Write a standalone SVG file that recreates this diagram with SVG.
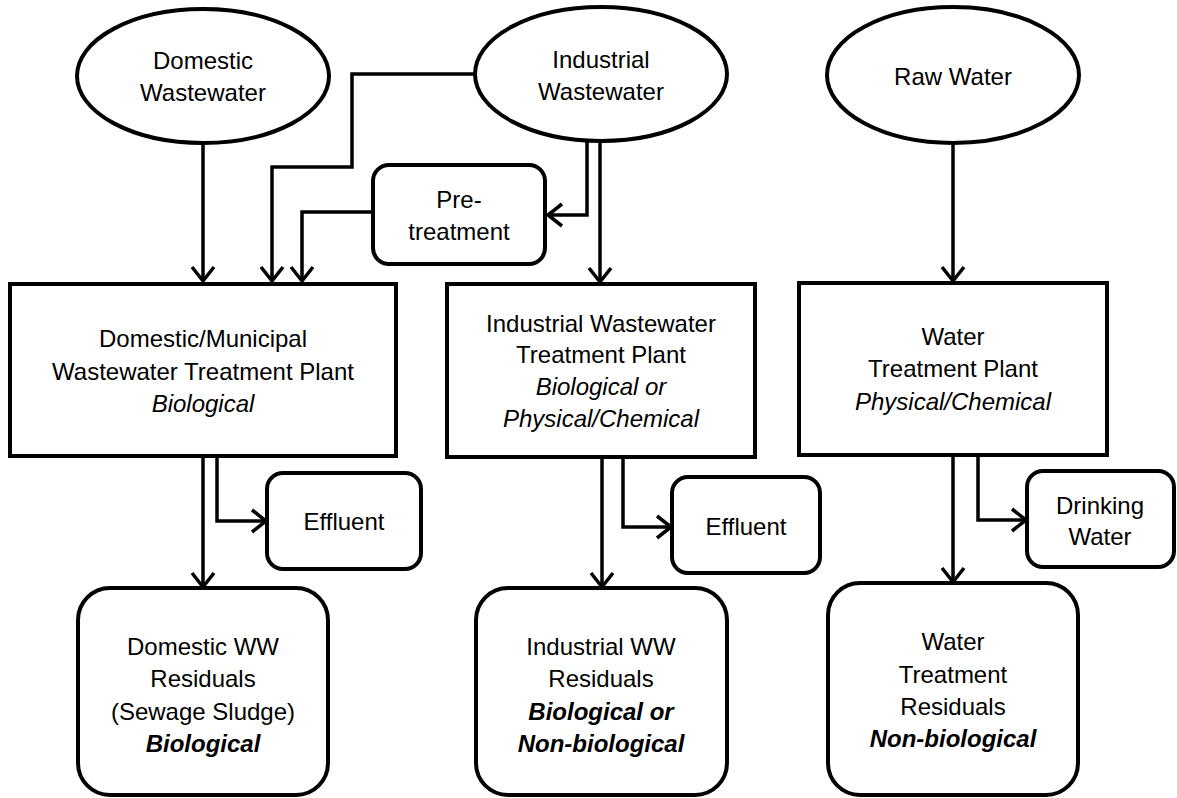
<svg xmlns="http://www.w3.org/2000/svg" width="1177" height="798" viewBox="0 0 1177 798">
<style>
.shape{fill:#fff;stroke:#000;stroke-width:4}
.t{font-family:"Liberation Sans",Arial,sans-serif;font-size:24px;fill:#000;text-anchor:middle}
.i{font-style:italic}
.bi{font-style:italic;font-weight:bold}
.c{fill:none;stroke:#000;stroke-width:3.5;stroke-linejoin:miter}
</style>
<defs>
<marker id="arr" markerUnits="userSpaceOnUse" markerWidth="26" markerHeight="30" viewBox="-20 -15 24 30" refX="0" refY="0" orient="auto" overflow="visible">
<path d="M-14,-11 L0,0 L-14,11" fill="none" stroke="#000" stroke-width="3.5"/>
</marker>
</defs>
<g id="connectors">
<path class="c" d="M203,143 V281" marker-end="url(#arr)"/>
<path class="c" d="M475,74 H352 V167 H272 V281" marker-end="url(#arr)"/>
<path class="c" d="M373,212 H302 V281" marker-end="url(#arr)"/>
<path class="c" d="M587,140 V215 H548" marker-end="url(#arr)"/>
<path class="c" d="M600,140 V282" marker-end="url(#arr)"/>
<path class="c" d="M953,143 V281" marker-end="url(#arr)"/>
<path class="c" d="M217,456 V521 H266" marker-end="url(#arr)"/>
<path class="c" d="M203,456 V587" marker-end="url(#arr)"/>
<path class="c" d="M623,457 V527 H671" marker-end="url(#arr)"/>
<path class="c" d="M602,457 V587" marker-end="url(#arr)"/>
<path class="c" d="M978,455 V520 H1026" marker-end="url(#arr)"/>
<path class="c" d="M953,455 V582" marker-end="url(#arr)"/>
</g>
<g id="domestic-ww">
<ellipse class="shape" cx="203" cy="76" rx="126" ry="67"/>
<text class="t" x="203" y="69">Domestic</text>
<text class="t" x="203" y="101">Wastewater</text>
</g>
<g id="industrial-ww">
<ellipse class="shape" cx="601" cy="74" rx="126" ry="67"/>
<text class="t" x="601" y="68">Industrial</text>
<text class="t" x="601" y="100">Wastewater</text>
</g>
<g id="raw-water">
<ellipse class="shape" cx="953" cy="75" rx="126" ry="68"/>
<text class="t" x="953" y="85">Raw Water</text>
</g>
<g id="pretreatment">
<rect class="shape" x="373" y="165" width="172" height="99" rx="16"/>
<text class="t" x="459" y="208">Pre-</text>
<text class="t" x="459" y="240">treatment</text>
</g>
<g id="domestic-plant">
<rect class="shape" x="10" y="284" width="386" height="172"/>
<text class="t" x="203" y="347">Domestic/Municipal</text>
<text class="t" x="203" y="380">Wastewater Treatment Plant</text>
<text class="t i" x="203" y="412">Biological</text>
</g>
<g id="industrial-plant">
<rect class="shape" x="447" y="284" width="308" height="173"/>
<text class="t" x="601" y="332">Industrial Wastewater</text>
<text class="t" x="601" y="363">Treatment Plant</text>
<text class="t i" x="601" y="395">Biological or</text>
<text class="t i" x="601" y="427">Physical/Chemical</text>
</g>
<g id="water-plant">
<rect class="shape" x="799" y="283" width="308" height="172"/>
<text class="t" x="953" y="345">Water</text>
<text class="t" x="953" y="377">Treatment Plant</text>
<text class="t i" x="953" y="410">Physical/Chemical</text>
</g>
<g id="effluent-domestic">
<rect class="shape" x="267" y="473" width="154" height="96" rx="16"/>
<text class="t" x="344" y="530">Effluent</text>
</g>
<g id="effluent-industrial">
<rect class="shape" x="672" y="477" width="148" height="96" rx="16"/>
<text class="t" x="746" y="535">Effluent</text>
</g>
<g id="drinking-water">
<rect class="shape" x="1027" y="471" width="147" height="96" rx="16"/>
<text class="t" x="1100" y="514">Drinking</text>
<text class="t" x="1100" y="545">Water</text>
</g>
<g id="domestic-residuals">
<rect class="shape" x="78" y="588" width="250" height="207" rx="32"/>
<text class="t" x="203" y="655">Domestic WW</text>
<text class="t" x="203" y="687">Residuals</text>
<text class="t" x="203" y="720">(Sewage Sludge)</text>
<text class="t bi" x="203" y="752">Biological</text>
</g>
<g id="industrial-residuals">
<rect class="shape" x="476" y="588" width="251" height="207" rx="32"/>
<text class="t" x="601" y="655">Industrial WW</text>
<text class="t" x="601" y="687">Residuals</text>
<text class="t bi" x="601" y="720">Biological or</text>
<text class="t bi" x="601" y="752">Non-biological</text>
</g>
<g id="water-residuals">
<rect class="shape" x="828" y="583" width="250" height="212" rx="32"/>
<text class="t" x="953" y="650">Water</text>
<text class="t" x="953" y="683">Treatment</text>
<text class="t" x="953" y="715">Residuals</text>
<text class="t bi" x="953" y="747">Non-biological</text>
</g>
</svg>
